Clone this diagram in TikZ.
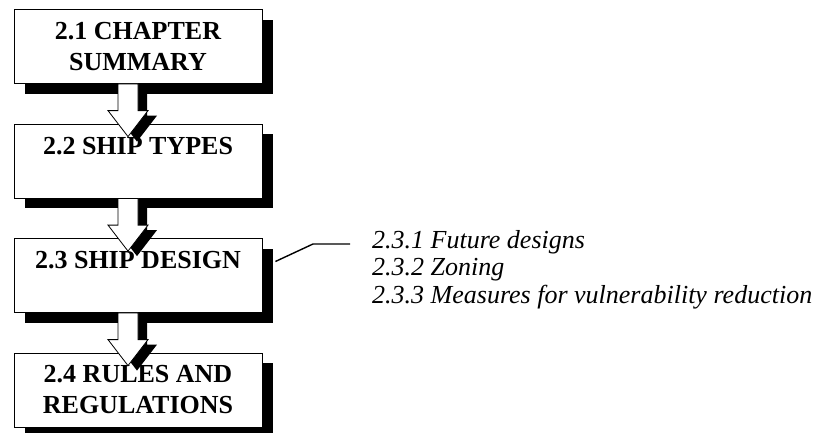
\documentclass[tikz,border=0pt]{standalone}
\usepackage{fontspec}
\setmainfont{Liberation Serif}
\usetikzlibrary{calc,shadows}

\tikzset{
  chapbox/.style={draw, line width=0.8pt, fill=white, align=center,
    minimum width=248pt, minimum height=74pt, inner sep=0pt,
    font=\fontsize{26}{31}\selectfont\bfseries,
    drop shadow={shadow xshift=11pt, shadow yshift=-10pt, opacity=1, fill=black}},
  downarrow/.style={draw, line width=0.8pt, fill=white,
    drop shadow={shadow xshift=9pt, shadow yshift=-5pt, opacity=1, fill=black}}
}

% block arrow from the bottom of one box into the top of the next
\newcommand{\flowarrow}[2]{%
  \path[downarrow] let \p1=($(#1.south)+(-10,0)$), \p2=($(#2.north)+(-10,13)$) in
    (\x1-10pt,\y1) -- (\x1-10pt,\y2+26pt) -- (\x1-20pt,\y2+26pt) -- (\x1,\y2)
    -- (\x1+20pt,\y2+26pt) -- (\x1+10pt,\y2+26pt) -- (\x1+10pt,\y1) -- cycle;}

\begin{document}
\begin{tikzpicture}[x=1pt, y=-1pt]
  \useasboundingbox (0,0) rectangle (828,432);

  \node[chapbox] (b1) at (138,46.5) {2.1 CHAPTER\\SUMMARY};
  \node[chapbox] (b2) at (138,161) {2.2 SHIP TYPES\\\phantom{X}};
  \node[chapbox] (b3) at (138,275.5) {2.3 SHIP DESIGN\\\phantom{X}};
  \node[chapbox] (b4) at (138,390) {2.4 RULES AND\\REGULATIONS};

  \flowarrow{b1}{b2}
  \flowarrow{b2}{b3}
  \flowarrow{b3}{b4}

  % subsections of 2.3
  \node[anchor=north west, inner sep=0pt, align=left,
    font=\fontsize{26}{27.5}\selectfont\itshape] (sub) at (372,230)
    {2.3.1 Future designs\\2.3.2 Zoning\\2.3.3 Measures for vulnerability reduction};
  \coordinate (lnk) at ($(b3.east)+(13,-14)$);
  \coordinate (bend) at ($(sub.north west)+(-59,14)$);
  \draw[line width=1.4pt] (lnk) -- (bend) -- ($(sub.north west)+(-22,14)$);
\end{tikzpicture}
\end{document}
